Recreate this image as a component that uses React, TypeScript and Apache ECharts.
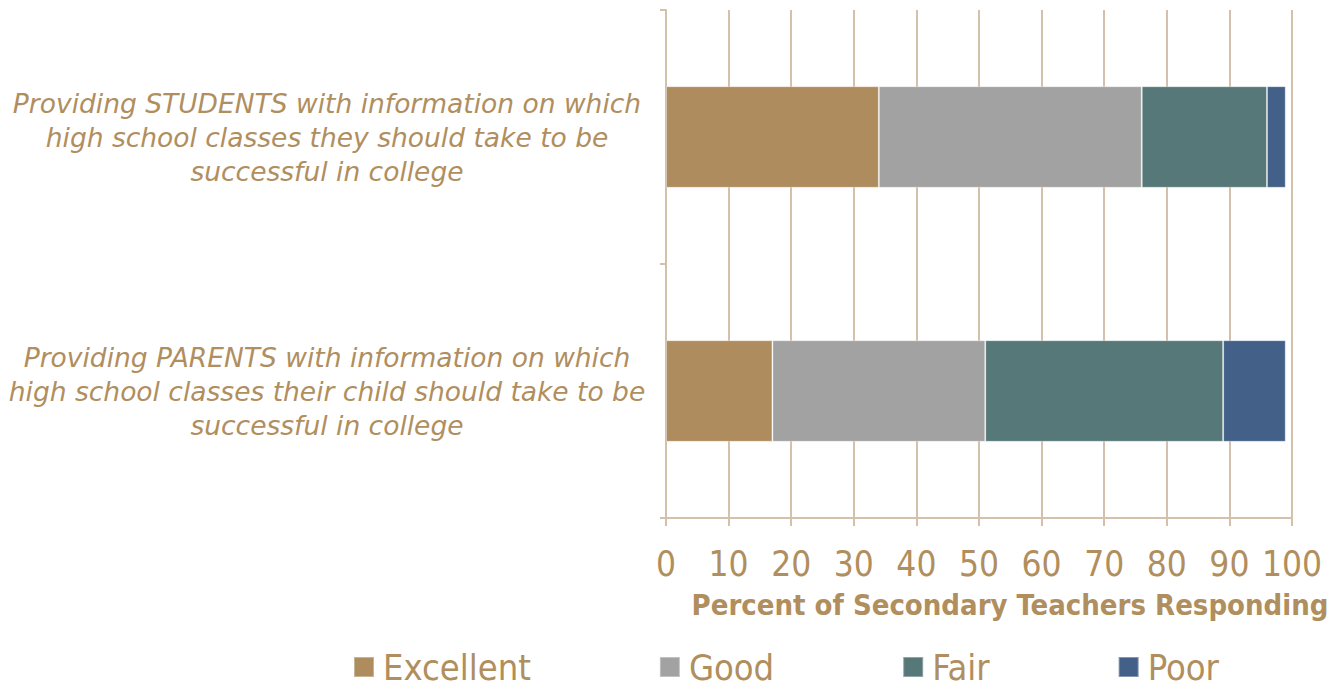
import React, { useEffect, useRef } from "react";
import * as echarts from "echarts";

const categories = [
  "Providing STUDENTS with information on which\nhigh school classes they should take to be\nsuccessful in college",
  "Providing PARENTS with information on which\nhigh school classes their child should take to be\nsuccessful in college",
];
const seriesNames = ["Excellent", "Good", "Fair", "Poor"];
const excellent = [34, 17];
const good = [42, 34];
const fair = [20, 38];
const poor = [3, 10];
const colors = ["#AE8C5E", "#A2A2A2", "#577878", "#426088"];
const axisTitle = "Percent of Secondary Teachers Responding";

const TEXT = "#B08E5E";
const LINE = "#D4C1AC";

export default function App() {
  const ref = useRef<HTMLDivElement>(null);
  useEffect(() => {
    const chart = echarts.init(ref.current!, null, { renderer: "svg" });
    const data = [excellent, good, fair, poor];
    chart.setOption({
      animation: false,
      grid: { left: 666, right: 41, top: 10, bottom: 170 },
      legend: {
        left: 353,
        top: 649,
        padding: 0,
        itemGap: 128,
        itemWidth: 20,
        itemHeight: 20,
        icon: "rect",
        textStyle: {
          color: TEXT,
          fontSize: 36,
          lineHeight: 36,
          fontFamily: "DejaVu Sans Condensed",
          padding: [0, 0, 0, 4],
        },
        data: seriesNames,
      },
      xAxis: {
        type: "value",
        min: 0,
        max: 100,
        interval: 10,
        axisLine: { show: true, lineStyle: { color: LINE, width: 2 } },
        axisTick: { show: true, length: 8, lineStyle: { color: LINE, width: 2 } },
        splitLine: { show: true, lineStyle: { color: LINE, width: 2 } },
        axisLabel: { color: TEXT, fontSize: 35, fontFamily: "DejaVu Sans Condensed", margin: 28 },
        name: axisTitle,
        nameLocation: "middle",
        nameGap: 72,
        nameTextStyle: {
          color: TEXT,
          fontSize: 29,
          fontWeight: "bold",
          fontFamily: "DejaVu Sans Condensed",
          padding: [0, 0, 0, 62],
        },
      },
      yAxis: {
        type: "category",
        inverse: true,
        data: categories,
        axisLine: { show: true, lineStyle: { color: LINE, width: 2 } },
        axisTick: { show: true, length: 6, lineStyle: { color: LINE, width: 2 } },
        axisLabel: {
          color: TEXT,
          fontSize: 26.5,
          fontStyle: "italic",
          fontFamily: "DejaVu Sans",
          lineHeight: 34,
          align: "center",
          margin: 339,
        },
      },
      series: seriesNames.map((name, i) => ({
        name,
        type: "bar",
        stack: "total",
        barCategoryGap: "60%",
        data: data[i],
        itemStyle: { color: colors[i], borderColor: "rgba(255,255,255,0.35)", borderWidth: 1 },
      })),
    });
    return () => chart.dispose();
  }, []);
  return <div ref={ref} style={{ width: 1333, height: 688, position: "absolute", left: 0, top: 0 }} />;
}
